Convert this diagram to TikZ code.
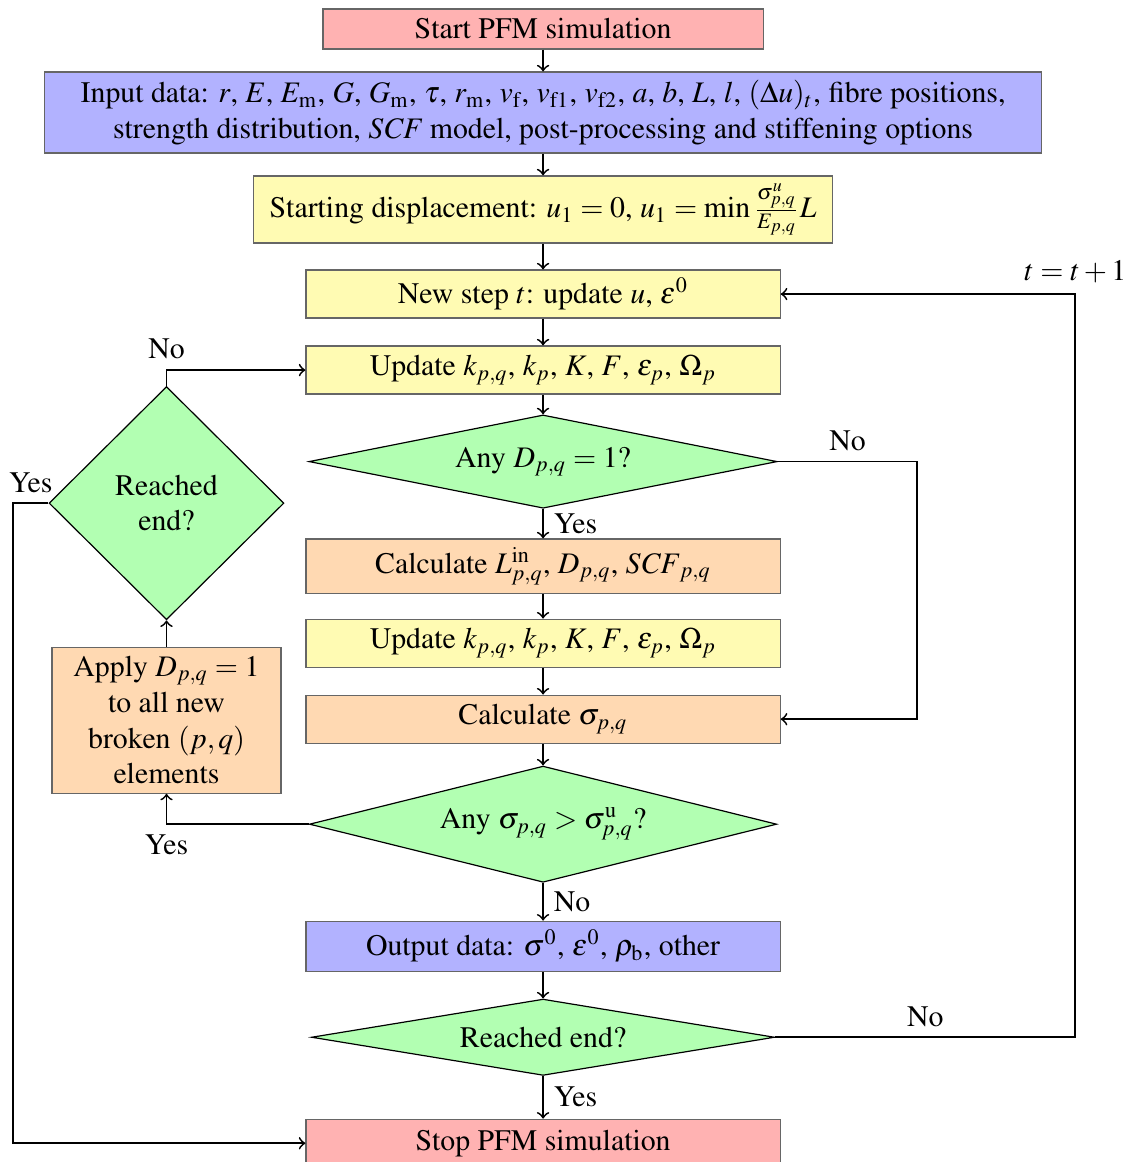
\documentclass[tikz,border=0pt]{standalone}
\usepackage[T1]{fontenc}
\usepackage{mathptmx}
\usepackage{amsmath}
\usetikzlibrary{shapes.geometric}

\begin{document}
\begin{tikzpicture}[
        box/.style={draw=black!60, align=center, inner sep=2pt, minimum width=5.59cm, minimum height=0.566cm},
        decision/.style={shape=diamond, draw, fill=green!30, align=center, inner sep=0pt},
        flow/.style={semithick, ->}
    ]
        \useasboundingbox (0,0) rectangle (13.31,-13.70);
        \coordinate (rgt) at (10.814,0);
        \coordinate (frgt) at (12.677,0);
        \coordinate (flft) at (0.153,0);
        \node [box, fill=red!30, minimum width=5.19cm, minimum height=0.47cm] (start) at (6.403,-0.342) {Start PFM simulation};
        \node [box, fill=blue!30, minimum width=11.76cm, minimum height=0.955cm] (input) at (6.403,-1.327) {Input data: $r$, $E$, $E_\mathrm{m}$, $G$, $G_\mathrm{m}$, $\tau$, $r_\mathrm{m}$, $v_\mathrm{f}$, $v_\mathrm{f1}$, $v_\mathrm{f2}$, $a$, $b$, $L$, $l$, $(\Delta u)_t$, fibre positions,\\ strength distribution, \textit{SCF} model, post-processing and stiffening options};
        \node [box, fill=yellow!30, minimum width=6.82cm, minimum height=0.79cm] (disp) at (6.403,-2.470) {Starting displacement: $u_1 = 0$, $u_1 = \min \frac{\sigma^u_{p,q}}{E_{p,q}} L$};
        \node [box, fill=yellow!30] (newstep) at (6.403,-3.467) {New step $t$: update $u$, $\varepsilon^0$};
        \node [box, fill=yellow!30] (upd) at (6.403,-4.363) {Update $k_{p,q}$, $k_p$, $K$, $F$, $\varepsilon_p$, $\Omega_p$};
        \node [decision, aspect=5, minimum width=5.52cm, minimum height=1.10cm] (anyd) at (6.403,-5.442) {Any $D_{p,q} = 1$?};
        \node [box, fill=orange!30, minimum height=0.64cm] (calcl) at (6.403,-6.675) {Calculate $L^\mathrm{in}_{p,q}$, $D_{p,q}$, $\mathit{SCF}_{p,q}$};
        \node [box, fill=yellow!30] (upd2) at (6.403,-7.583) {Update $k_{p,q}$, $k_p$, $K$, $F$, $\varepsilon_p$, $\Omega_p$};
        \node [box, fill=orange!30] (calcs) at (6.403,-8.479) {Calculate $\sigma_{p,q}$};
        \node [decision, aspect=4, minimum width=5.51cm, minimum height=1.37cm] (anys) at (6.403,-9.717) {Any $\sigma_{p,q} > \sigma^\mathrm{u}_{p,q}$?};
        \node [box, fill=blue!30, minimum height=0.59cm] (output) at (6.403,-11.156) {Output data: $\sigma^0$, $\varepsilon^0$, $\rho_\mathrm{b}$, other};
        \node [decision, aspect=6, minimum width=5.46cm, minimum height=0.90cm] (reach) at (6.403,-12.229) {Reached end?};
        \node [box, fill=red!30] (stop) at (6.403,-13.479) {Stop PFM simulation};
        \node [decision, aspect=1, minimum width=2.77cm, minimum height=2.75cm] (lend) at (1.963,-5.932) {Reached\\ end?};
        \node [box, fill=orange!30, minimum width=2.70cm, minimum height=1.72cm] (apply) at (1.963,-8.491) {Apply $D_{p,q} = 1$\\ to all new\\ broken $(p,q)$\\ elements};

        \draw[flow] (start) -- (input);
        \draw[flow] (input) -- (disp);
        \draw[flow] (disp) -- (newstep);
        \draw[flow] (newstep) -- (upd);
        \draw[flow] (upd) -- (anyd);
        \draw[flow] (anyd) -- node[right] {Yes} (calcl);
        \draw[flow] (anyd.east) -- node[above] {No} (anyd.east -| rgt) |- (calcs.east);
        \draw[flow] (calcl) -- (upd2);
        \draw[flow] (upd2) -- (calcs);
        \draw[flow] (calcs) -- (anys);
        \draw[flow] (anys) -- node[right] {No} (output);
        \draw[flow] (anys.west) -| node[pos=0.5, below] {Yes} (apply.south);
        \draw[flow] (apply) -- (lend);
        \draw[flow] (lend.north) |- node[pos=0.5, above] {No} (upd.west);
        \draw[flow] (lend.west) -- node[above] {Yes} (lend.west -| flft) |- (stop.west);
        \draw[flow] (output) -- (reach);
        \draw[flow] (reach) -- node[right] {Yes} (stop);
        \draw[flow] (reach.east) -- node[above] {No} (reach.east -| frgt) |- node[pos=0.5, above] {$t = t + 1$} (newstep.east);
    \end{tikzpicture}
\end{document}
